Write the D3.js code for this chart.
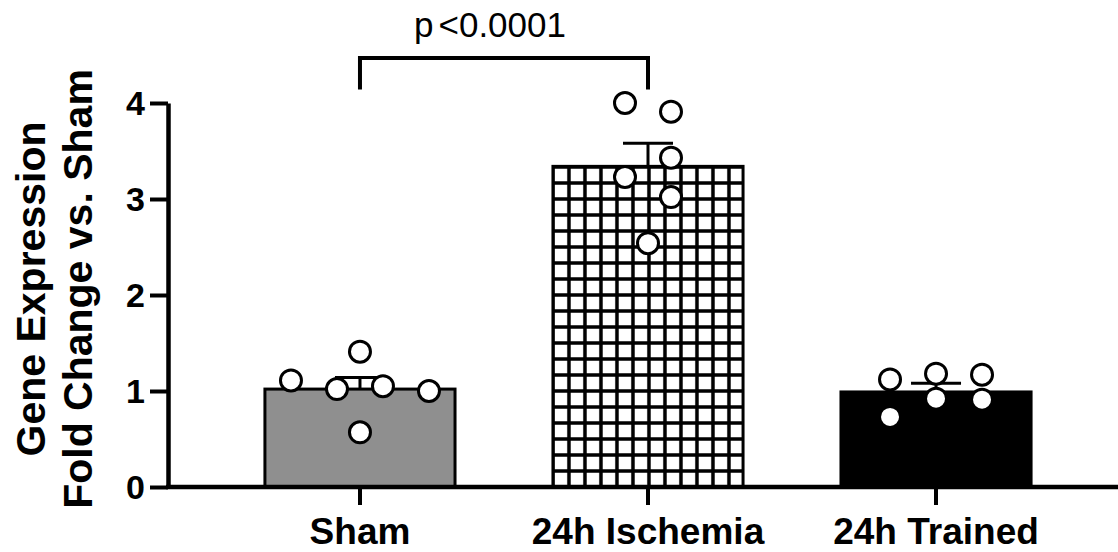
<!DOCTYPE html>
<html>
<head>
<meta charset="utf-8">
<script src="https://cdn.jsdelivr.net/npm/d3@7"></script>
<style>
  body { margin: 0; background: #fff; }
  svg { display: block; font-family: "Liberation Sans", Arial, Helvetica, sans-serif; }
</style>
</head>
<body>
<svg id="chart" width="1118" height="552"></svg>
<script>
const categories = ["Sham", "24h Ischemia", "24h Trained"];
const means = [1.02, 3.34, 0.99];
const sems = [0.12, 0.24, 0.09];

// individual animals per group, slot = column of the scatter within the bar
const shamPoints = [1.11, 1.02, 1.41, 0.57, 1.05, 1.0];
const shamSlots = [-3, -1, 0, 0, 1, 3];
const ischemiaPoints = [4.0, 3.91, 3.43, 3.23, 3.02, 2.54];
const ischemiaSlots = [-1, 1, 1, -1, 1, 0];
const trainedPoints = [1.12, 1.18, 1.17, 0.73, 0.92, 0.91];
const trainedSlots = [-2, 0, 2, -2, 0, 2];

const yTicks = [0, 1, 2, 3, 4];
const pLabel = ["p", "<0.0001"];

const svg = d3.select("#chart");

const x = d3.scaleBand().domain(categories).range([167, 1129]).padding(0.34);
const y = d3.scaleLinear().domain([0, 4]).range([487, 103]);
const axisX = 168;
const dotStep = 23;

const points = [
  ...shamPoints.map((v, i) => ({ cat: categories[0], v, slot: shamSlots[i] })),
  ...ischemiaPoints.map((v, i) => ({ cat: categories[1], v, slot: ischemiaSlots[i] })),
  ...trainedPoints.map((v, i) => ({ cat: categories[2], v, slot: trainedSlots[i] })),
];

const bars = categories.map((c, i) => ({ cat: c, mean: means[i], sem: sems[i] }));
const fills = ["#8f8f8f", "url(#grid)", "#000"];

// checkered fill for the ischemia bar
const defs = svg.append("defs");
const grid = defs
  .append("pattern")
  .attr("id", "grid")
  .attr("patternUnits", "userSpaceOnUse")
  .attr("width", 16)
  .attr("height", 16)
  .attr("x", x(categories[1]) - 8)
  .attr("y", y(0) - 8);
grid.append("rect").attr("width", 16).attr("height", 16).attr("fill", "#fff");
grid
  .append("path")
  .attr("d", "M8,0V16M0,8H16")
  .attr("stroke", "#000")
  .attr("stroke-width", 3.5);

svg
  .selectAll("rect.bar")
  .data(bars)
  .join("rect")
  .attr("class", "bar")
  .attr("x", (d) => x(d.cat))
  .attr("y", (d) => y(d.mean))
  .attr("width", x.bandwidth())
  .attr("height", (d) => y(0) - y(d.mean))
  .attr("fill", (d, i) => fills[i])
  .attr("stroke", "#000")
  .attr("stroke-width", 3);

// error bars (upper SEM only)
const err = svg.append("g").attr("stroke", "#000").attr("stroke-width", 3);
bars.forEach((d) => {
  const cx = x(d.cat) + x.bandwidth() / 2;
  err
    .append("line")
    .attr("x1", cx)
    .attr("x2", cx)
    .attr("y1", y(d.mean))
    .attr("y2", y(d.mean + d.sem));
  err
    .append("line")
    .attr("x1", cx - 25)
    .attr("x2", cx + 25)
    .attr("y1", y(d.mean + d.sem))
    .attr("y2", y(d.mean + d.sem));
});

svg
  .selectAll("circle.pt")
  .data(points)
  .join("circle")
  .attr("class", "pt")
  .attr("cx", (d) => x(d.cat) + x.bandwidth() / 2 + d.slot * dotStep)
  .attr("cy", (d) => y(d.v))
  .attr("r", 10.5)
  .attr("fill", "#fff")
  .attr("stroke", "#000")
  .attr("stroke-width", 3);

// axes
const gy = svg
  .append("g")
  .attr("transform", `translate(${axisX},0)`)
  .call(d3.axisLeft(y).tickValues(yTicks).tickSize(18).tickSizeOuter(0).tickFormat(d3.format("d")));
gy.select(".domain").attr("stroke-width", 4.5);
gy.selectAll(".tick line").attr("stroke-width", 4);
gy.selectAll(".tick text")
  .attr("x", -23)
  .attr("dy", "0.33em")
  .attr("font-size", 34)
  .attr("font-weight", "bold")
  .attr("font-family", null)
  .attr("fill", "#000");

const gx = svg
  .append("g")
  .attr("transform", `translate(0,${y(0)})`)
  .call(d3.axisBottom(x).tickSize(18).tickSizeOuter(0));
gx.select(".domain").attr("stroke-width", 4.5).attr("d", `M${axisX - 2},0H1118`);
gx.selectAll(".tick line").attr("stroke-width", 4);
gx.selectAll(".tick text")
  .attr("y", 57)
  .attr("dy", 0)
  .attr("font-size", 37)
  .attr("font-weight", "bold")
  .attr("font-family", null)
  .attr("fill", "#000");
svg.selectAll(".domain, .tick line").attr("stroke", "#000");

// y title, two lines
const title = svg
  .append("text")
  .attr("transform", "translate(0,289) rotate(-90)")
  .attr("text-anchor", "middle")
  .attr("font-size", 41)
  .attr("font-weight", "bold");
title.append("tspan").attr("x", 0).attr("y", 45).text("Gene Expression");
title.append("tspan").attr("x", 0).attr("y", 92).text("Fold Change vs. Sham");

// significance bracket
const bx1 = x(categories[0]) + x.bandwidth() / 2;
const bx2 = x(categories[1]) + x.bandwidth() / 2;
svg
  .append("path")
  .attr("d", `M${bx1},${y(4.14)}V${y(4.47)}H${bx2}V${y(4.14)}`)
  .attr("fill", "none")
  .attr("stroke", "#000")
  .attr("stroke-width", 4);
const pText = svg
  .append("text")
  .attr("x", 490)
  .attr("y", 37)
  .attr("text-anchor", "middle")
  .attr("font-size", 35);
pText.append("tspan").text(pLabel[0]);
pText.append("tspan").attr("dx", 5).text(pLabel[1]);
</script>
</body>
</html>
